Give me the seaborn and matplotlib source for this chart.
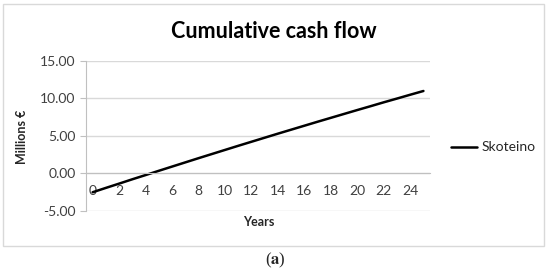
import matplotlib
matplotlib.use("Agg")
import matplotlib.pyplot as plt
import seaborn as sns
import numpy as np
from matplotlib.patches import Rectangle
from matplotlib.ticker import FormatStrFormatter

# data
years = list(range(26))
skoteino = [-2.50, -1.92, -1.35, -0.77, -0.21, 0.36, 0.92, 1.48, 2.04, 2.59,
            3.14, 3.69, 4.23, 4.77, 5.31, 5.84, 6.37, 6.90, 7.42, 7.94,
            8.46, 8.97, 9.49, 9.99, 10.50, 11.00]
series_name = "Skoteino"

sns.set_style("white")
plt.rcParams['font.family'] = ['Lato', 'DejaVu Sans']
plt.rcParams['mathtext.fontset'] = 'stix'

fig = plt.figure(figsize=(5.5, 2.73), dpi=100)
ax = fig.add_axes([0.1564, 0.2271, 0.6255, 0.5495])

sns.lineplot(x=years, y=skoteino, color="black", linewidth=1.8, ax=ax, label=series_name, legend=False)

ax.set_xlim(-0.5, 25.5)
ax.set_ylim(-5, 15)
ax.set_yticks([-5, 0, 5, 10, 15])
ax.yaxis.set_major_formatter(FormatStrFormatter('%.2f'))
ax.grid(axis='y', color='#d9d9d9', linewidth=1)
ax.set_axisbelow(True)

for s in ['top', 'right']:
    ax.spines[s].set_visible(False)
ax.spines['left'].set_color('#c0c0c0')
ax.spines['bottom'].set_color('#c0c0c0')
ax.spines['bottom'].set_position(('data', 0))

ax.set_xticks(range(0, 25, 2))
ax.set_xticks(np.arange(-0.5, 26, 1), minor=True)
ax.tick_params(axis='x', which='major', length=0, pad=8, labelsize=10, colors='#404040')
ax.tick_params(axis='x', which='minor', length=4, direction='inout', color='#c0c0c0')
ax.tick_params(axis='y', which='major', length=4, direction='out', color='#c0c0c0',
               labelsize=10, labelcolor='#404040', left=True)

ax.set_xlabel("")
ax.set_ylabel("")
fig.text(0.47, 0.185, "Years", ha='center', va='center', fontsize=9, fontweight='bold', color='#262626')
fig.text(0.04, 0.5, "Millions €", ha='center', va='center', rotation=90, fontsize=9,
         fontweight='bold', color='#262626')
fig.text(0.497, 0.885, "Cumulative cash flow", ha='center', va='center', fontsize=15.5,
         fontweight='bold', color='black')

fig.legend(handles=ax.get_lines()[:1], labels=[series_name], loc='center left',
           bbox_to_anchor=(0.82, 0.46), frameon=False, fontsize=10, handlelength=1.9,
           handletextpad=0.3, labelcolor='#262626', borderaxespad=0, borderpad=0)

fig.patches.append(Rectangle((3 / 550, 27 / 273), 541 / 550, 242 / 273, transform=fig.transFigure,
                             fill=False, edgecolor='#d9d9d9', linewidth=1))
fig.text(0.5, 0.048, r"($\mathbf{a}$)", ha='center', va='center', fontsize=12, family='Liberation Serif')

fig.savefig("out.png", dpi=100)
